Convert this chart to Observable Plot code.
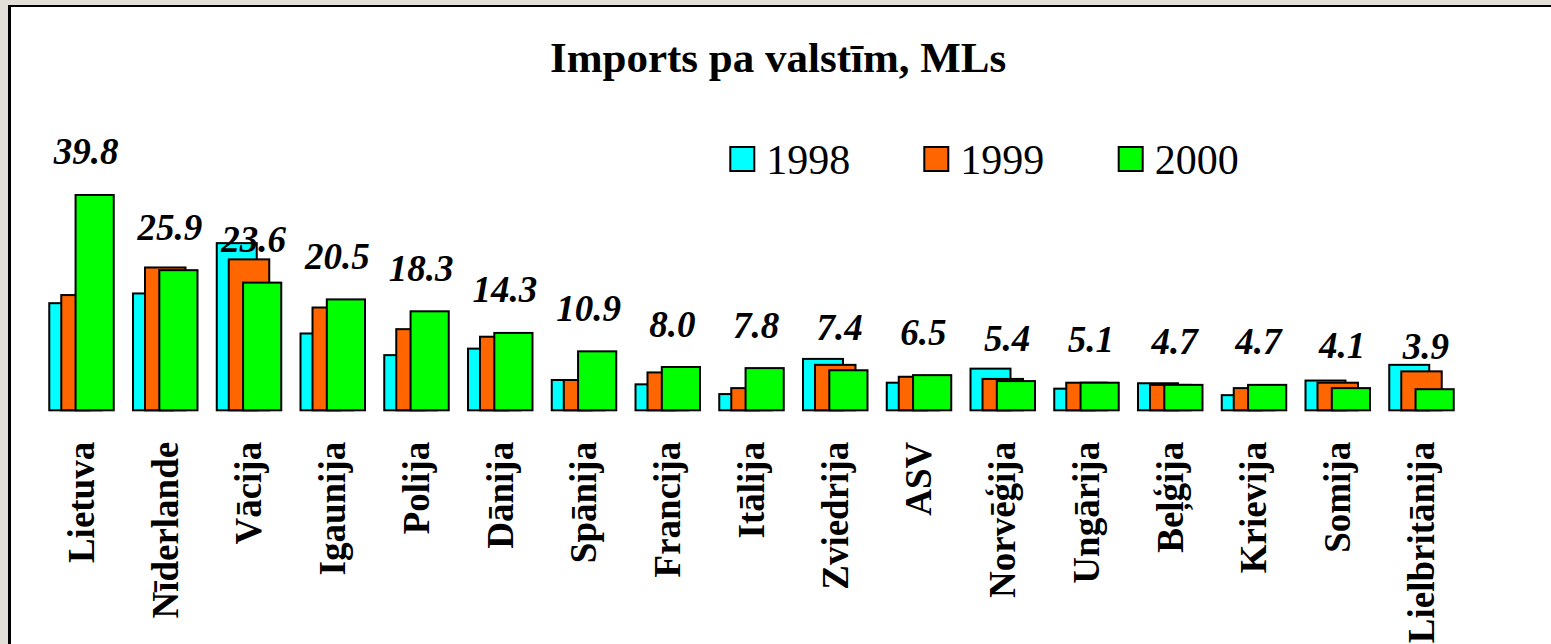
<!DOCTYPE html>
<html>
<head>
<meta charset="utf-8">
<script src="https://cdn.jsdelivr.net/npm/d3@7"></script>
<script src="https://cdn.jsdelivr.net/npm/@observablehq/plot@0.6"></script>
<style>
  html { margin: 0; padding: 0; overflow: hidden; background: #e2dfd9; }
  body {
    margin: 0; padding: 0; overflow: hidden;
    width: 1551px; height: 644px; position: relative;
    background: #e2dfd9;
    font-family: "Liberation Serif", "Times New Roman", serif;
  }
  #frame {
    position: absolute; left: 8px; top: 5px; width: 1543px; height: 639px;
    background: #ffffff;
    border-left: 3px solid #000; border-top: 2.5px solid #000; box-sizing: border-box;
  }
  #chart { position: absolute; left: 0; top: 0; width: 1551px; height: 644px; }
  #chart svg { max-width: none; display: block; }
  #overlay { position: absolute; left: 0; top: 0; display: block; }
  #chart svg text { font-family: "Liberation Serif", "Times New Roman", serif; }
  #edge { position: absolute; left: 1510px; top: 8px; width: 41px; height: 636px; background: #ffffff; z-index: 10; }
</style>
</head>
<body>
<div id="frame"></div>
<div id="chart"></div>
<svg id="overlay" width="1551" height="200" xmlns="http://www.w3.org/2000/svg"></svg>
<div id="edge"></div>
<script>
// ---- data ----
const countries = ["Lietuva","Nīderlande","Vācija","Igaunija","Polija","Dānija","Spānija","Francija","Itālija","Zviedrija","ASV","Norvēģija","Ungārija","Beļģija","Krievija","Somija","Lielbritānija"];
const v1998 = [19.8, 21.6, 30.9, 14.2, 10.2, 11.4, 5.6, 4.8, 3.0, 9.5, 5.1, 7.7, 4.0, 5.0, 2.8, 5.5, 8.4];
const v1999 = [21.3, 26.4, 27.9, 19.0, 15.0, 13.6, 5.6, 7.0, 4.1, 8.4, 6.2, 5.8, 5.1, 4.7, 4.1, 5.1, 7.2];
const v2000 = [39.8, 25.9, 23.6, 20.5, 18.3, 14.3, 10.9, 8.0, 7.8, 7.4, 6.5, 5.4, 5.1, 4.7, 4.7, 4.1, 3.9];
const years = ["1998", "1999", "2000"];
const colors = ["#00ffff", "#ff6600", "#00ff00"];
const title = "Imports pa valstīm, MLs";

const rows = countries.map((c, i) => ({country: c, v1998: v1998[i], v1999: v1999[i], v2000: v2000[i]}));

const serif = "'Liberation Serif', 'Times New Roman', serif";

const chart = Plot.plot({
  width: 1551,
  height: 644,
  marginLeft: 30,
  marginRight: 78,
  marginTop: 193.9,
  marginBottom: 233.7,
  style: {background: "transparent", overflow: "visible", maxWidth: "none"},
  x: {domain: countries, padding: 0.23, round: false, axis: null},
  y: {domain: [0, 40], axis: null},
  marks: [
    Plot.barY(rows, {x: "country", y: "v1998", fill: colors[0], stroke: "black", strokeWidth: 2, insetLeft: 0, insetRight: 24.5}),
    Plot.barY(rows, {x: "country", y: "v1999", fill: colors[1], stroke: "black", strokeWidth: 2, insetLeft: 12, insetRight: 12}),
    Plot.barY(rows, {x: "country", y: "v2000", fill: colors[2], stroke: "black", strokeWidth: 2, insetLeft: 26.3, insetRight: 0}),
    Plot.text(rows, {
      x: "country", y: "v2000", text: d => d.v2000.toFixed(1),
      dy: -31, dx: 4, lineAnchor: "bottom",
      fontSize: 37, fontWeight: "bold", fontStyle: "italic", fontFamily: serif, fill: "black"
    }),
    Plot.axisX({
      tickRotate: -90, tickSize: 0, tickPadding: 31, label: null,
      fontSize: 37, fontWeight: "bold", fontFamily: serif, fill: "black"
    })
  ]
});
document.getElementById("chart").appendChild(chart);

// ---- title and legend ----
const ns = "http://www.w3.org/2000/svg";
const ov = document.getElementById("overlay");
function el(name, attrs, text) {
  const e = document.createElementNS(ns, name);
  for (const k in attrs) e.setAttribute(k, attrs[k]);
  if (text != null) e.textContent = text;
  ov.appendChild(e);
  return e;
}
function txt(attrs, text, style) {
  const e = el("text", attrs, text);
  e.style.fontFamily = serif;
  Object.assign(e.style, style || {});
  return e;
}
txt({x: 550, y: 71.7, fill: "black"}, title, {fontSize: "43px", fontWeight: "bold"});

const legendLeft = [729.3, 923.3, 1117.7];
years.forEach((yr, i) => {
  el("rect", {x: legendLeft[i] + 1, y: 147, width: 24, height: 24, fill: colors[i], stroke: "black", "stroke-width": 2});
  txt({x: legendLeft[i] + 37, y: 174.3, fill: "black"}, yr, {fontSize: "42px"});
});
</script>
</body>
</html>
